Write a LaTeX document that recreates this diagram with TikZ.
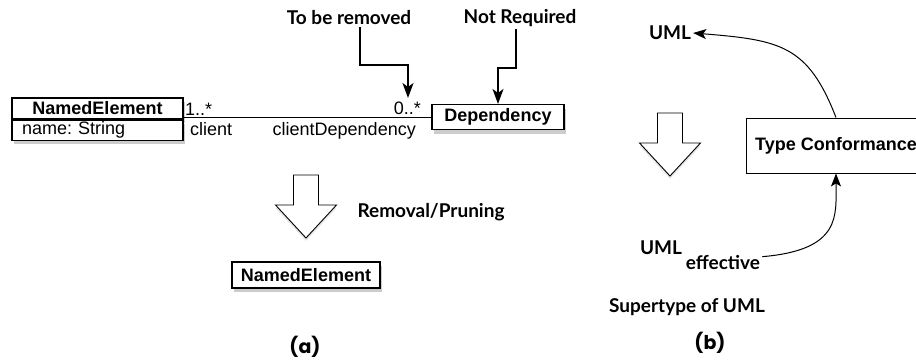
\documentclass[tikz,border=0pt]{standalone}
\usepackage{fontspec}
\setmainfont{Lato}
\setsansfont{Liberation Sans}
\newfontfamily\capfont{Poppins}
\frenchspacing
\usetikzlibrary{arrows.meta,shadows}

\tikzset{
  umlbox/.style={draw, fill=white, line width=1.1pt, inner sep=0pt,
    font=\sffamily\bfseries\fontsize{18}{20}\selectfont,
    drop shadow={shadow xshift=2pt, shadow yshift=-4pt, opacity=.4}},
  plainbox/.style={draw, fill=white, line width=0.9pt, inner sep=0pt,
    font=\sffamily\bfseries\fontsize{18}{20}\selectfont},
  role/.style={inner sep=0pt, font=\sffamily\fontsize{18}{20}\selectfont},
  note/.style={inner sep=2pt, font=\bfseries\fontsize{19}{21}\selectfont},
  caption/.style={font=\capfont\bfseries\fontsize{19}{21}\selectfont},
  callout/.style={line width=1.4pt, -{Stealth[length=15pt,width=11pt,inset=4pt]}},
  link/.style={line width=1pt, -{Stealth[length=13pt,width=10pt,inset=3pt]}},
  hollow/.style={draw, fill=white, line width=0.9pt,
    drop shadow={shadow xshift=0pt, shadow yshift=-3pt, opacity=.2}},
  pics/bigdown/.style={code={
    \draw[hollow] (-12.5,0) -- (12.5,0) -- (12.5,30) -- (30.5,30)
      -- (0,63) -- (-30.5,30) -- (-12.5,30) -- cycle;
  }}
}

\begin{document}
\begin{tikzpicture}[x=1pt, y=-1pt]
  \clip (0,0) rectangle (916,362);

  % (a) removal of the dependency
  \node[umlbox, minimum width=171pt, minimum height=21pt] (ne) at (97.5,108.5) {NamedElement};
  \node[umlbox, font=\sffamily\fontsize{18}{20}\selectfont, minimum width=171pt,
    minimum height=20pt, text width=151pt, align=left, anchor=north] (neattr) at (ne.south) {name: String};
  \node[umlbox, minimum width=132pt, minimum height=25pt] (dep) at (498,117) {Dependency};
  \draw[line width=1pt] (ne.east |- dep.west) -- (dep.west);

  \node[role, anchor=base west] (mult1) at (185,115) {1..*};
  \node[role, anchor=base west] (rol1) at (190,135) {client};
  \node[role, anchor=base east] (mult2) at (421,114) {0..*};
  \node[role, anchor=base east] (rol2) at (416,135) {clientDependency};

  \node[note] (rem) at (349,18) {To be removed};
  \coordinate (remtip) at (408,98);
  \draw[callout] ([xshift=11pt]rem.south) |- ([yshift=33pt]remtip) -- (remtip);

  \node[note] (nreq) at (520,18) {Not Required};
  \draw[callout] ([xshift=-4pt]nreq.south) |- ([yshift=36pt]dep.north) -- (dep.north);

  \pic at (306,175) {bigdown};
  \node[note] (prune) at (431,212) {Removal/Pruning};
  \node[umlbox, minimum width=148pt, minimum height=26pt] (ne2) at (306,275) {NamedElement};

  \node[caption] (capa) at (305,347) {(a)};

  % (b) type conformance
  \node[note] (uml) at (670,33) {UML};
  \node[plainbox, minimum width=180pt, minimum height=55pt] (tc) at (836,145.5) {Type Conformance};
  \draw[link] (tc.north) .. controls (808,45) and (780,40) .. (uml.east);

  \pic at (670,113) {bigdown};

  \node[note] (umlb) at (661,248) {UML};
  \node[note] (eff) at (723,263) {effective};
  \draw[link] ([yshift=-3pt]eff.north east) .. controls (842,250) and (836,215) .. (tc.south);

  \node[note] (super) at (687,307) {Supertype of UML};
  \node[caption] (capb) at (710,343) {(b)};
\end{tikzpicture}
\end{document}
